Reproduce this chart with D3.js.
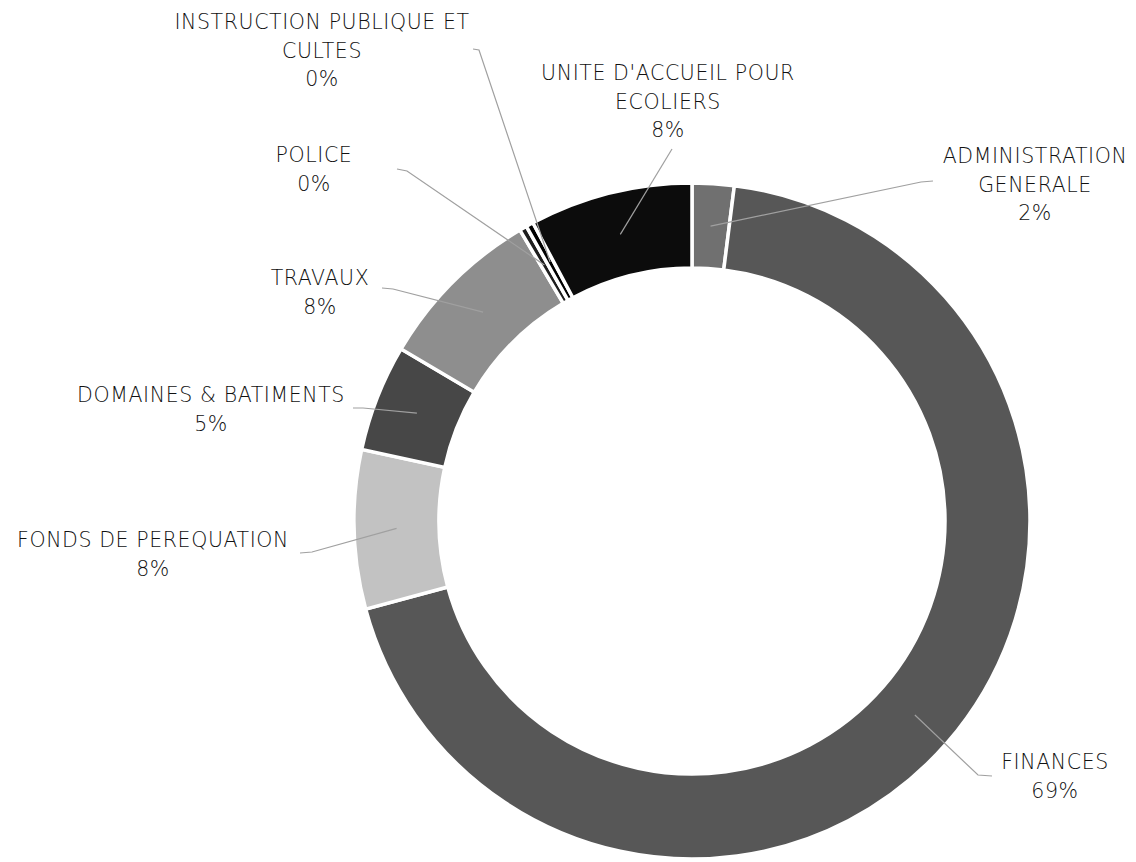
<!DOCTYPE html>
<html>
<head>
<meta charset="utf-8">
<script src="https://cdn.jsdelivr.net/npm/d3@7"></script>
<style>
  body { margin: 0; background: #fff; }
  text { font-family: "DejaVu Sans", sans-serif; font-weight: 200; fill: #111; }
</style>
</head>
<body>
<svg id="chart" width="1136" height="862"></svg>
<script>
// data (clockwise from 12 o'clock)
var categories = ["ADMINISTRATION GENERALE", "FINANCES", "FONDS DE PEREQUATION",
    "DOMAINES & BATIMENTS", "TRAVAUX", "POLICE", "INSTRUCTION PUBLIQUE ET CULTES",
    "UNITE D'ACCUEIL POUR ECOLIERS"];
var values = [2.0, 68.8, 7.6, 5.1, 8.0, 0.35, 0.35, 7.8];
var percentLabels = ["2%", "69%", "8%", "5%", "8%", "0%", "0%", "8%"];
var colors = ["#707070", "#575757", "#c2c2c2", "#474747", "#8e8e8e", "#1e1e1e", "#000000", "#0c0c0c"];

// label layout: centre x, first line y, wrapped lines, leader start points
var labelLayout = [
    {x: 1035, y: 156, lines: ["ADMINISTRATION", "GENERALE"], leader: [[933, 181], [921, 182]]},
    {x: 1055, y: 762, lines: ["FINANCES"], leader: [[992, 776], [978, 775]]},
    {x: 153, y: 540, lines: ["FONDS DE PEREQUATION"], leader: [[300, 553], [312, 552]]},
    {x: 211, y: 395, lines: ["DOMAINES & BATIMENTS"], leader: [[353, 408], [363, 408]]},
    {x: 320, y: 278, lines: ["TRAVAUX"], leader: [[382, 288], [393, 289]]},
    {x: 314, y: 155, lines: ["POLICE"], leader: [[397, 169], [407, 171]]},
    {x: 322, y: 22, lines: ["INSTRUCTION PUBLIQUE ET", "CULTES"], leader: [[473, 49], [479, 50]]},
    {x: 668, y: 73, lines: ["UNITE D'ACCUEIL POUR", "ECOLIERS"], leader: [[672, 149]]}
];

var CX = 692, CY = 521;
var OUTER = 338, INNER = 253;
var LINE_H = 28.5;

var svg = d3.select("#chart");
var g = svg.append("g").attr("transform", "translate(" + CX + "," + CY + ")");

var pie = d3.pie().sort(null).value(function(d){ return d; });
var arcs = pie(values);

var arc = d3.arc().innerRadius(INNER).outerRadius(OUTER);
var mid = d3.arc().innerRadius((INNER + OUTER) / 2).outerRadius((INNER + OUTER) / 2);

g.selectAll("path.slice")
    .data(arcs)
    .enter().append("path")
    .attr("class", "slice")
    .attr("d", arc)
    .style("fill", function(d, i){ return colors[i]; })
    .style("stroke", "#fff")
    .style("stroke-width", 3.5);

// leader lines
var line = d3.line();
arcs.forEach(function(a, i){
    var c = mid.centroid(a);
    var pts = labelLayout[i].leader.map(function(p){ return [p[0] - CX, p[1] - CY]; });
    pts.push(c);
    g.append("path")
        .attr("d", line(pts))
        .style("fill", "none")
        .style("stroke", "#a0a0a0")
        .style("stroke-width", 1.2);
});

// labels
labelLayout.forEach(function(l, i){
    var rows = l.lines.concat([percentLabels[i]]);
    var t = svg.append("text")
        .attr("text-anchor", "middle")
        .style("font-size", "20.5px")
        .style("letter-spacing", "0.6px");
    rows.forEach(function(r, k){
        t.append("tspan")
            .attr("x", l.x)
            .attr("y", l.y + k * LINE_H)
            .attr("dominant-baseline", "central")
            .text(r);
    });
});
</script>
</body>
</html>
